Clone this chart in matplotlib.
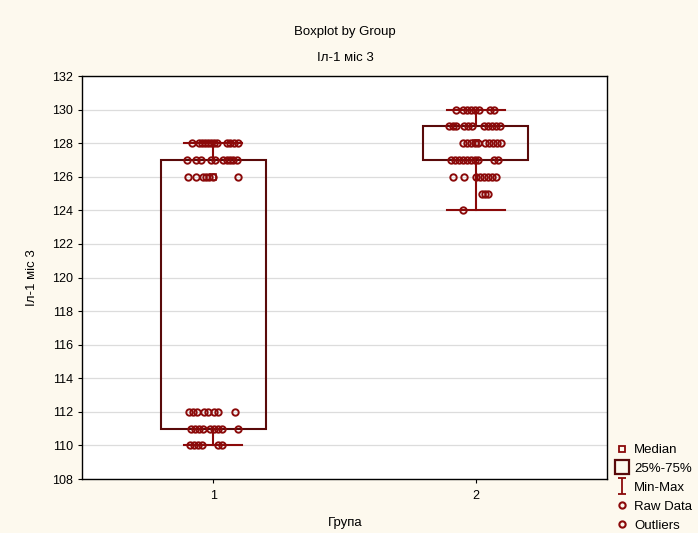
import numpy as np
import matplotlib
matplotlib.use("Agg")
import matplotlib.pyplot as plt
from matplotlib.lines import Line2D
from matplotlib.patches import Rectangle
from matplotlib.path import Path

plt.rcParams['font.family'] = ['Liberation Sans', 'DejaVu Sans']

# ---- data -------------------------------------------------------------
groups = [1, 2]
tick_labels = ['1', '2']

g1_values = ([128] * 12 + [127] * 10 + [126] * 7 +
             [112] * 8 + [111] * 9 + [110] * 6)
g1_jitter = [-0.080, -0.053, -0.042, -0.030, -0.019, -0.008, 0.004, 0.015, 0.053, 0.065, 0.080, 0.095,
             -0.099, -0.065, -0.046, -0.008, 0.008, 0.038, 0.053, 0.065, 0.076, 0.091,
             -0.095, -0.065, -0.038, -0.027, -0.015, 0.000, 0.095,
             -0.091, -0.076, -0.061, -0.034, -0.019, 0.004, 0.019, 0.084,
             -0.084, -0.068, -0.053, -0.038, -0.011, 0.004, 0.019, 0.034, 0.095,
             -0.087, -0.072, -0.057, -0.042, 0.019, 0.034]

g2_values = ([130] * 8 + [129] * 11 + [128] * 10 + [127] * 10 +
             [126] * 8 + [125] * 3 + [124] * 1)
g2_jitter = [-0.076, -0.049, -0.034, -0.019, -0.004, 0.011, 0.053, 0.068,
             -0.103, -0.087, -0.076, -0.046, -0.030, -0.015, 0.030, 0.046, 0.061, 0.076, 0.091,
             -0.049, -0.034, -0.019, -0.004, 0.008, 0.034, 0.049, 0.065, 0.080, 0.095,
             -0.095, -0.080, -0.065, -0.049, -0.034, -0.019, -0.004, 0.008, 0.068, 0.084,
             -0.087, -0.046, 0.000, 0.015, 0.030, 0.046, 0.061, 0.076,
             0.023, 0.034, 0.046,
             -0.049]

y_ticks = list(range(108, 133, 2))

# ---- style ------------------------------------------------------------
box_color = '#5a0a0a'
mark_color = '#8b0a0a'
fig_bg = '#fdf9ee'

fig = plt.figure(figsize=(6.98, 5.33), dpi=100, facecolor=fig_bg)
ax = fig.add_axes([82 / 698, 1 - 479 / 533, (607 - 82) / 698, (479 - 76) / 533])
ax.set_facecolor('white')

box_w = 0.4
cap_w = 0.22

for x, vals, jit in zip(groups, [g1_values, g2_values], [g1_jitter, g2_jitter]):
    vals = np.asarray(vals, dtype=float)
    q1, med, q3 = np.percentile(vals, [25, 50, 75])
    lo, hi = vals.min(), vals.max()

    # whiskers and caps
    ax.plot([x, x], [q3, hi], color=mark_color, lw=1.5, zorder=3)
    ax.plot([x, x], [lo, q1], color=mark_color, lw=1.5, zorder=3)
    ax.plot([x - cap_w / 2, x + cap_w / 2], [hi, hi], color=mark_color, lw=1.5, zorder=3)
    ax.plot([x - cap_w / 2, x + cap_w / 2], [lo, lo], color=mark_color, lw=1.5, zorder=3)

    # interquartile box
    ax.add_patch(Rectangle((x - box_w / 2, q1), box_w, q3 - q1, fill=False,
                           ec=box_color, lw=1.5, zorder=3))
    # median
    ax.plot([x], [med], marker='s', ms=4, mfc='none', mec=mark_color, mew=1.2,
            ls='none', zorder=3)

    # raw data
    ax.plot(x + np.asarray(jit), vals, marker='o', ls='none', ms=4.6,
            mfc='none', mec=mark_color, mew=1.4, zorder=4)

ax.set_xlim(0.5, 2.5)
ax.set_ylim(108, 132)
ax.set_xticks(groups)
ax.set_xticklabels(tick_labels)
ax.set_yticks(y_ticks)
ax.tick_params(direction='out', length=3, width=0.8, labelsize=9, colors='black')
ax.tick_params(axis='x', pad=5)
ax.yaxis.grid(True, color='#dcdcdc', lw=0.9, zorder=0)
ax.set_axisbelow(True)
for s in ax.spines.values():
    s.set_linewidth(1.0)
    s.set_color('black')

ax.set_ylabel('Іл-1 міс 3', fontsize=9.5, labelpad=10)

fig.text(345 / 698, 1 - 32 / 533, 'Boxplot by Group', ha='center', va='center', fontsize=9.5)
fig.text(345 / 698, 1 - 58 / 533, 'Іл-1 міс 3', ha='center', va='center', fontsize=9.5)
fig.text(345 / 698, 1 - 523 / 533, 'Група', ha='center', va='center', fontsize=9.5)

# ---- legend -----------------------------------------------------------
minmax_path = Path([(-0.5, 1), (0.5, 1), (0, 1), (0, -1), (-0.5, -1), (0.5, -1)],
                   [Path.MOVETO, Path.LINETO, Path.MOVETO, Path.LINETO, Path.MOVETO, Path.LINETO])
handles = [
    Line2D([], [], marker='s', ls='none', ms=4, mfc='none', mec=mark_color, mew=1.3),
    Line2D([], [], marker='s', ls='none', ms=10, mfc='none', mec=box_color, mew=1.6),
    Line2D([], [], marker=minmax_path, ls='none', ms=12, mfc='none', mec=mark_color, mew=1.3),
    Line2D([], [], marker='o', ls='none', ms=4.5, mfc='none', mec=mark_color, mew=1.5),
    Line2D([], [], marker='o', ls='none', ms=4.5, mfc='none', mec=mark_color, mew=1.5),
]
labels = ['Median', '25%-75%', 'Min-Max', 'Raw Data', 'Outliers']
fig.legend(handles, labels, loc='upper left', bbox_to_anchor=(615 / 698, 1 - 444 / 533),
           frameon=False, fontsize=9.5, handlelength=1.0, handletextpad=0.45,
           labelspacing=0.5, borderaxespad=0, borderpad=0)

fig.savefig('out.png', dpi=100, facecolor=fig_bg)
